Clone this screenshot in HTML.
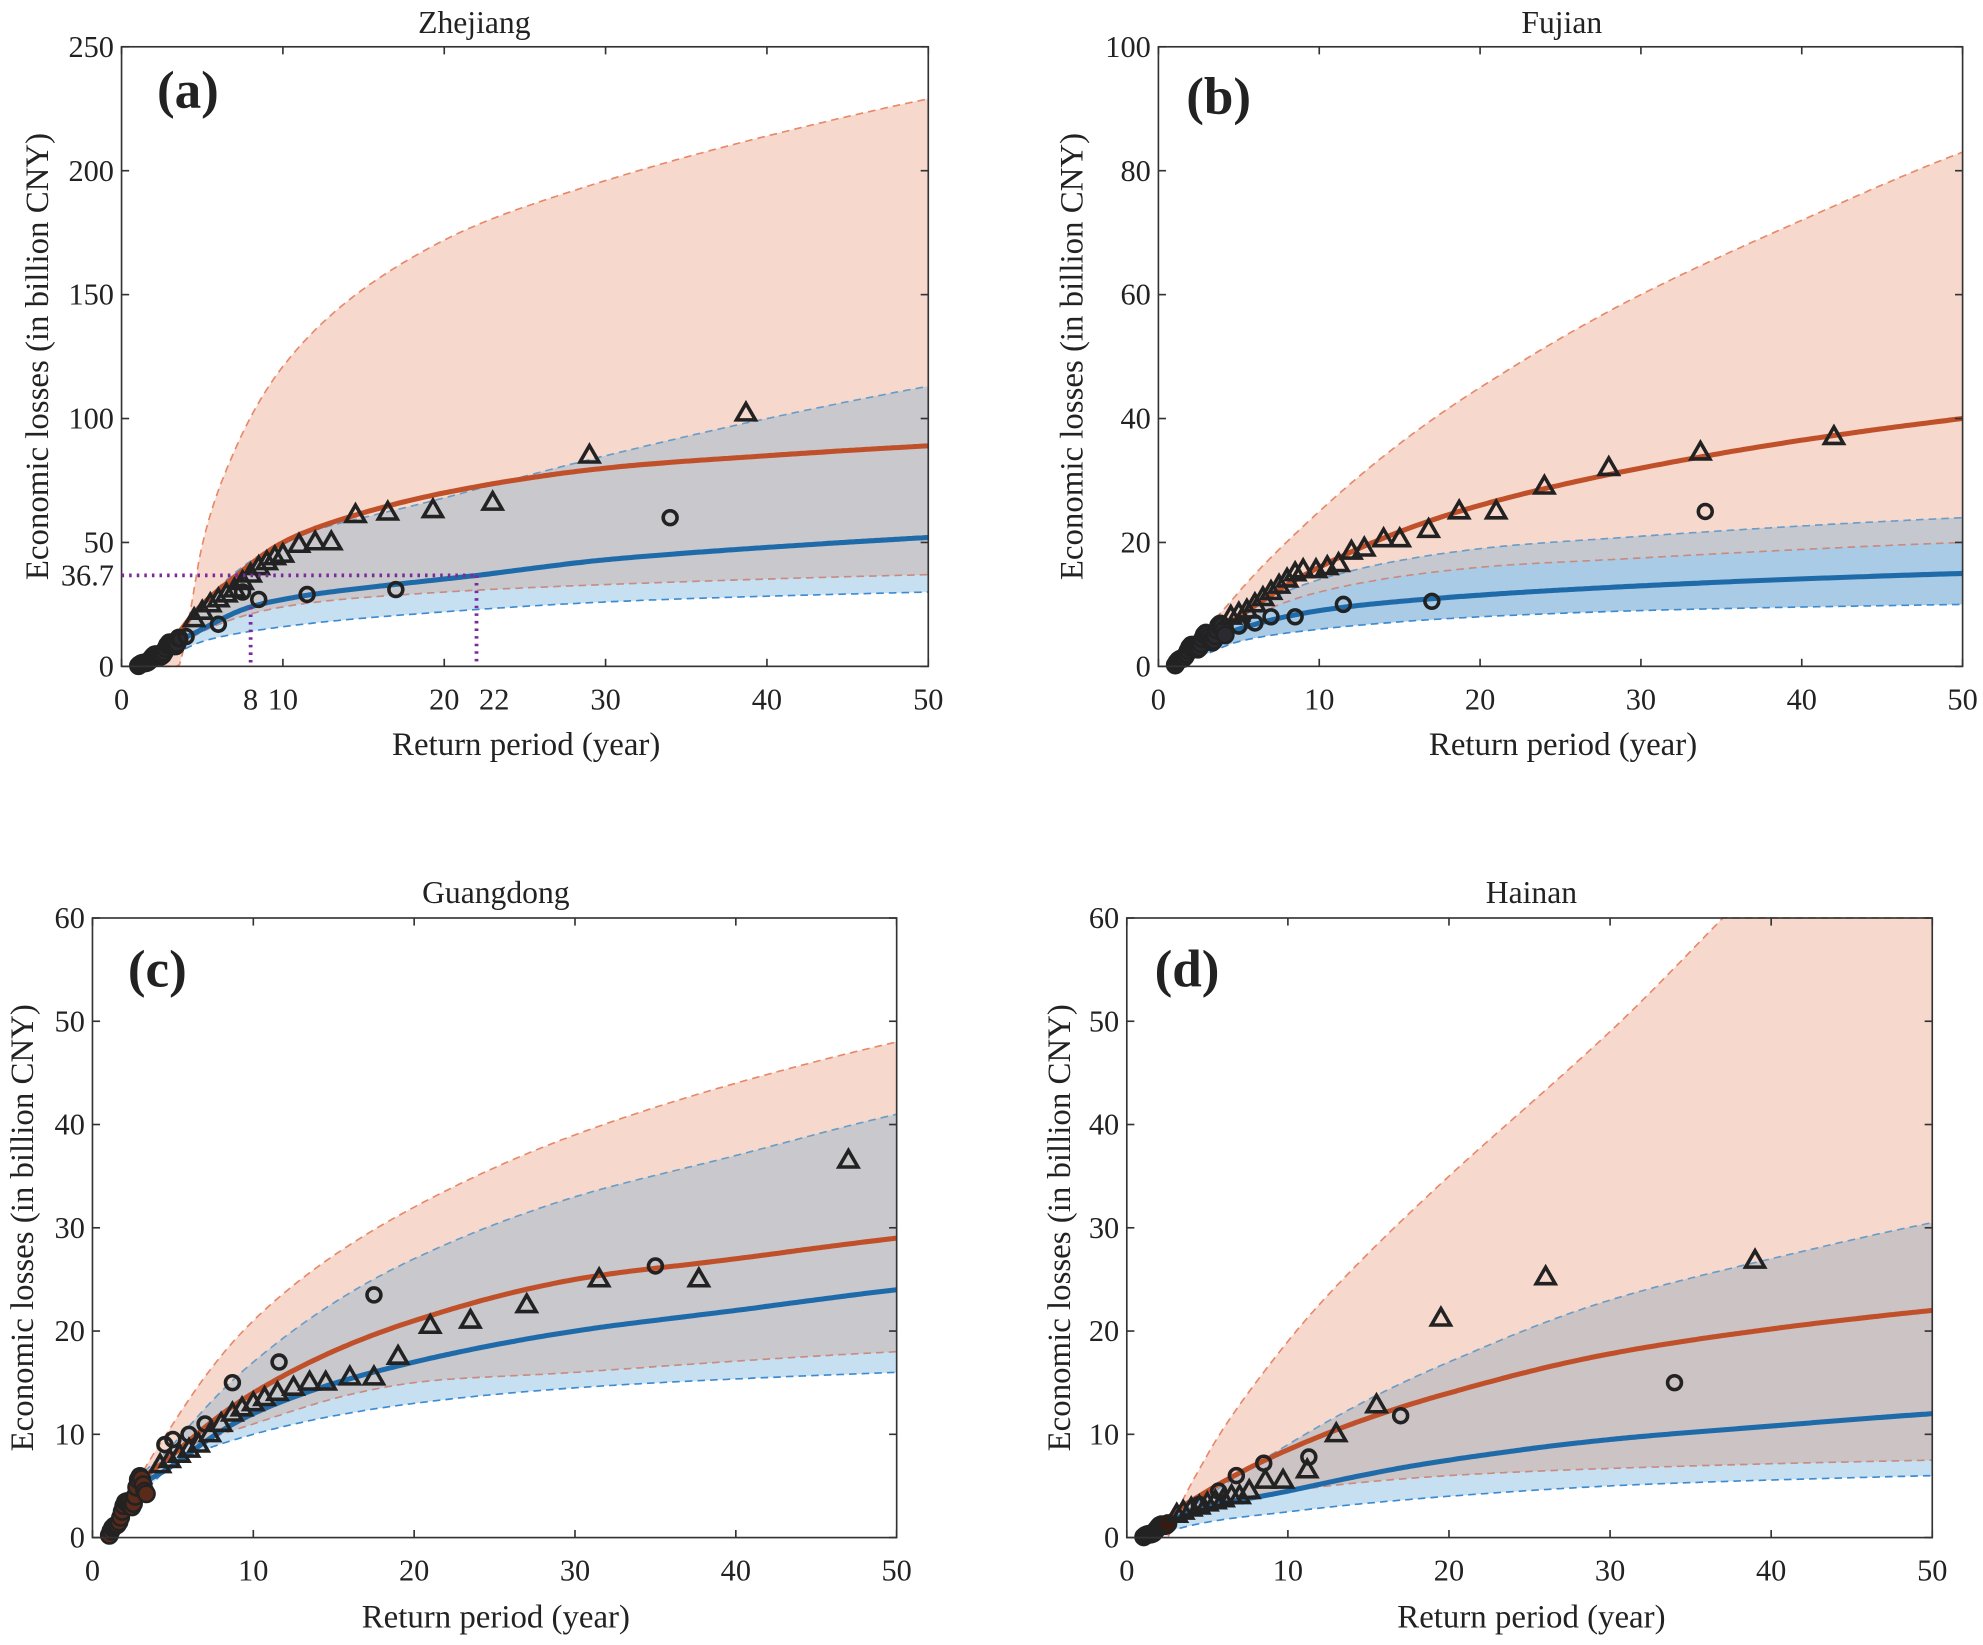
<!DOCTYPE html>
<html><head><meta charset="utf-8"><style>
html,body{margin:0;padding:0;background:#fff}
text{font-family:"Liberation Serif","Times New Roman",serif;fill:#222}
</style></head><body>
<svg id="s" width="1983" height="1640" viewBox="0 0 1568 1297" xmlns="http://www.w3.org/2000/svg" font-family="Liberation Serif, serif">
<rect width="1568" height="1297" fill="#fff"/>
<g id="g"></g>
<text x="375" y="26" font-size="25" text-anchor="middle" font-family="Liberation Serif, serif">Zhejiang</text>
<text x="1235" y="26" font-size="25" text-anchor="middle" font-family="Liberation Serif, serif">Fujian</text>
<text x="392" y="714" font-size="25" text-anchor="middle" font-family="Liberation Serif, serif">Guangdong</text>
<text x="1211" y="714" font-size="25" text-anchor="middle" font-family="Liberation Serif, serif">Hainan</text>
<text x="416" y="597" font-size="26" text-anchor="middle" font-family="Liberation Serif, serif">Return period (year)</text>
<text x="1236" y="597" font-size="26" text-anchor="middle" font-family="Liberation Serif, serif">Return period (year)</text>
<text x="392" y="1287" font-size="26" text-anchor="middle" font-family="Liberation Serif, serif">Return period (year)</text>
<text x="1211" y="1287" font-size="26" text-anchor="middle" font-family="Liberation Serif, serif">Return period (year)</text>
<text transform="translate(38,282) rotate(-90)" font-size="26" text-anchor="middle" font-family="Liberation Serif, serif">Economic losses (in billion CNY)</text>
<text transform="translate(856,282) rotate(-90)" font-size="26" text-anchor="middle" font-family="Liberation Serif, serif">Economic losses (in billion CNY)</text>
<text transform="translate(26,971) rotate(-90)" font-size="26" text-anchor="middle" font-family="Liberation Serif, serif">Economic losses (in billion CNY)</text>
<text transform="translate(846,971) rotate(-90)" font-size="26" text-anchor="middle" font-family="Liberation Serif, serif">Economic losses (in billion CNY)</text>
</svg>
<script>
var NS="http://www.w3.org/2000/svg",G=document.getElementById('g');
function el(t,a,txt){var e=document.createElementNS(NS,t);for(var k in a)e.setAttribute(k,a[k]);if(txt!==undefined){e.textContent=txt;e.setAttribute('font-family','Liberation Serif, serif');}G.appendChild(e);return e;}
function interp(pts,T){
 var n=pts.length,x=pts.map(function(p){return Math.log(p[0])}),y=pts.map(function(p){return p[1]});
 var u=Math.log(T);
 if(u<=x[0])return y[0]; if(u>=x[n-1])return y[n-1];
 var d=[],m=[];for(var i=0;i<n-1;i++)d.push((y[i+1]-y[i])/(x[i+1]-x[i]));
 m[0]=d[0];m[n-1]=d[n-2];for(i=1;i<n-1;i++){m[i]=(d[i-1]*d[i]<=0)?0:(d[i-1]+d[i])/2;}
 for(i=0;i<n-1;i++){if(d[i]===0){m[i]=0;m[i+1]=0;continue;}var a=m[i]/d[i],b=m[i+1]/d[i],s=a*a+b*b;if(s>9){var t=3/Math.sqrt(s);m[i]=t*a*d[i];m[i+1]=t*b*d[i];}}
 for(i=0;i<n-1;i++)if(u<=x[i+1])break;
 var h=x[i+1]-x[i],t=(u-x[i])/h,t2=t*t,t3=t2*t;
 return (2*t3-3*t2+1)*y[i]+(t3-2*t2+t)*h*m[i]+(-2*t3+3*t2)*y[i+1]+(t3-t2)*h*m[i+1];}
function panel(P){
 var X=function(t){return P.x0+(P.x1-P.x0)*t/50},Y=function(v){return P.y0-(P.y0-P.y1)*Math.max(0,Math.min(v,P.ymax))/P.ymax};
 var Ts=[];for(var t=1;t<=50.001;t+=0.2)Ts.push(t);
 function line(c){return Ts.map(function(t,i){return (i?'L':'M')+X(t).toFixed(1)+' '+Y(interp(c,t)).toFixed(1)}).join(' ')}
 function band(lo,hi){var a=Ts.map(function(t,i){return (i?'L':'M')+X(t).toFixed(1)+' '+Y(hi(t)).toFixed(1)}).join(' ');
  var b=Ts.slice().reverse().map(function(t){return 'L'+X(t).toFixed(1)+' '+Y(lo(t)).toFixed(1)}).join(' ');return a+' '+b+'Z';}
 var ou=function(t){return interp(P.ou,t)},ol=function(t){return interp(P.ol,t)},bu=function(t){return interp(P.bu,t)},bl=function(t){return interp(P.bl,t)};
 el('path',{d:band(ol,ou),fill:'#f6d9cc'});
 el('path',{d:band(bl,bu),fill:P.bc});
 el('path',{d:band(function(t){return Math.max(ol(t),bl(t))},function(t){return Math.max(Math.max(ol(t),bl(t)),Math.min(ou(t),bu(t)))}),fill:P.gc});
 el('path',{d:line(P.ou),fill:'none',stroke:'#e8886a','stroke-width':1.3,'stroke-dasharray':'6 4'});
 el('path',{d:line(P.ol),fill:'none',stroke:'#c98a80','stroke-width':1.3,'stroke-dasharray':'6 4'});
 el('path',{d:line(P.bu),fill:'none',stroke:'#6a9cc8','stroke-width':1.3,'stroke-dasharray':'6 4'});
 el('path',{d:line(P.bl),fill:'none',stroke:'#3d8ad0','stroke-width':1.3,'stroke-dasharray':'6 4'});
 el('path',{d:line(P.os),fill:'none',stroke:'#c0502a','stroke-width':4});
 el('path',{d:line(P.bs),fill:'none',stroke:'#1f6aa8','stroke-width':4});
 for(var t=1.05;t<=P.cl;t+=0.1){var v=interp(P.os,t)*(0.9+0.2*Math.sin(t*7));
  el('circle',{cx:X(t),cy:Y(v),r:6.5,fill:P.cf,stroke:'#222','stroke-width':2});}
 P.tri.forEach(function(p){var x=X(p[0]),y=Y(p[1]);el('path',{d:'M'+x+' '+(y-8)+' L'+(x+7.5)+' '+(y+5)+' L'+(x-7.5)+' '+(y+5)+'Z',fill:'none',stroke:'#222','stroke-width':2.8});});
 P.cir.forEach(function(p){el('circle',{cx:X(p[0]),cy:Y(p[1]),r:5.5,fill:'none',stroke:'#222','stroke-width':2.8});});
 el('rect',{x:P.x0,y:P.y1,width:P.x1-P.x0,height:P.y0-P.y1,fill:'none',stroke:'#333','stroke-width':1.3});
 for(var i=0;i<=5;i++){var x=X(i*10);el('line',{x1:x,y1:P.y0,x2:x,y2:P.y0-6,stroke:'#333','stroke-width':1.3});el('line',{x1:x,y1:P.y1,x2:x,y2:P.y1+6,stroke:'#333','stroke-width':1.3});
  el('text',{x:x,y:P.y0+34,'font-size':24,'text-anchor':'middle'},String(i*10));}
 P.yt.forEach(function(v){var y=Y(v);el('line',{x1:P.x0,y1:y,x2:P.x0+6,y2:y,stroke:'#333','stroke-width':1.3});el('line',{x1:P.x1,y1:y,x2:P.x1-6,y2:y,stroke:'#333','stroke-width':1.3});
  el('text',{x:P.x0-6,y:y+8,'font-size':24,'text-anchor':'end'},String(v));});
 el('text',{x:P.lx,y:P.ly,'font-size':42,'font-weight':'bold'},P.lab);
 return {X:X,Y:Y};
}
var a=panel({x0:96,x1:734,y0:527,y1:37,ymax:250,yt:[0,50,100,150,200,250],lab:'(a)',lx:124,ly:85,bc:'#c6e0f2',gc:'#c8c8cd',cf:'#2a2a30',cl:3.6,
 ou:[[1,0],[3.5,0],[4.2,20],[5,49],[7,87],[10,121],[20,172],[30,196],[40,214],[50,229]],
 ol:[[1,0],[3,5],[5,14],[10,24],[20,30],[30,33],[50,37]],
 bu:[[1,0],[3,6],[5,25],[10,50],[20,68],[30,85],[40,100],[50,113]],
 bl:[[1,0],[3,4],[5,10],[10,16],[20,22],[30,26],[50,30]],
 os:[[1,0],[2,4],[3,9],[5,25],[7,36],[10,50],[15,62],[20,70],[30,80],[40,85],[50,89]],
 bs:[[1,0],[2,3],[3,8],[5,15],[8,24],[10,27],[22,36.7],[30,43],[40,48],[50,52]],
 tri:[[38.7,102],[29,85],[23,66],[19.3,63],[16.5,62],[14.5,61],[13,50],[12,50],[11,49],[10,45],[9.5,44],[9,42],[8.5,40],[8,37],[7.5,34],[7,31],[6.5,29],[6,27],[5.5,25],[5,22],[4.5,19]],
 cir:[[34,60],[17,31],[11.5,29],[8.5,27],[7.5,30],[6,17],[4,12],[3.6,11]]});
var b=panel({x0:916,x1:1552,y0:527,y1:37,ymax:100,yt:[0,20,40,60,80,100],lab:'(b)',lx:938,ly:90,bc:'#a9cbe6',gc:'#c6c8cf',cf:'#2a2a30',cl:4.2,
 ou:[[1,0],[2,3],[3,6],[5,12],[10,25],[20,45],[30,60],[40,72],[50,83]],
 ol:[[1,0],[3,4],[5,7],[10,12],[20,16],[30,17.5],[50,20]],
 bu:[[1,0],[3,4],[5,8],[10,14],[20,19],[30,21],[50,24]],
 bl:[[1,0],[3,2],[5,4],[10,6],[20,8],[30,9],[50,10]],
 os:[[1,0],[2,3],[3,5],[5,8],[10,16],[20,26],[30,32],[40,36.5],[50,40]],
 bs:[[1,0],[2,2],[3,4],[5,6],[10,9],[20,11.5],[30,13],[50,15]],
 tri:[[42,37],[33.7,34.5],[28,32],[24,29],[21,25],[18.7,25],[16.8,22],[15,20.5],[14,20.5],[12.8,19],[12,18.5],[11.2,16.5],[10.5,16],[9.8,15.5],[9,15.5],[8.5,15],[8,14],[7.5,13],[7,12],[6.5,11],[6,10],[5.5,9],[5,8.5],[4.5,8]],
 cir:[[34,25],[17,10.5],[11.5,10],[8.5,8],[7,8],[6,7],[5,6.5]]});
var c=panel({x0:73,x1:709,y0:1216,y1:726,ymax:60,yt:[0,10,20,30,40,50,60],lab:'(c)',lx:101,ly:780,bc:'#c6e0f2',gc:'#c8c8cd',cf:'#5a2a1a',cl:3.4,
 ou:[[1,0],[2,3],[3,6],[5,11],[10,21],[20,32],[30,39],[40,44],[50,48]],
 ol:[[1,0],[3,5],[5,8],[10,11],[20,15],[30,16],[50,18]],
 bu:[[1,0],[3,6],[5,9],[10,17],[20,27],[30,33],[40,37],[50,41]],
 bl:[[1,0],[3,4],[5,7],[10,10],[20,13],[30,14.5],[50,16]],
 os:[[1,0],[2,3],[3,5.5],[5,8],[10,14],[20,21],[30,25],[40,27],[50,29]],
 bs:[[1,0],[2,3],[3,5],[5,7],[10,12],[20,17],[30,20],[40,22],[50,24]],
 tri:[[47,36.5],[37.7,25],[31.5,25],[27,22.5],[23.5,21],[21,20.5],[19,17.5],[17.5,15.5],[16,15.5],[14.5,15],[13.5,15],[12.5,14.5],[11.5,14],[10.7,13.5],[10,13],[9.3,12.5],[8.7,12],[8,11],[7.3,10],[6.6,9],[6,8.5],[5.4,8],[4.8,7.5],[4.2,7]],
 cir:[[35,26.3],[17.5,23.5],[11.6,17],[8.7,15],[7,11],[6,10],[5,9.5],[4.5,9]]});
var d=panel({x0:891,x1:1528,y0:1216,y1:726,ymax:60,yt:[0,10,20,30,40,50,60],lab:'(d)',lx:913,ly:780,bc:'#c6e0f2',gc:'#cbc3c4',cf:'#3a1a10',cl:2.6,
 ou:[[1,0],[2.5,0],[3,2],[5,8],[10,19],[20,35],[30,49],[37,60],[50,80]],
 ol:[[1,0],[3,1.5],[5,3],[10,4.5],[20,6],[50,7.5]],
 bu:[[1,0],[3,2],[5,4],[10,9],[20,17],[30,23],[40,27],[50,30.5]],
 bl:[[1,0],[3,0.8],[5,1.5],[10,2.5],[20,4],[30,5],[50,6]],
 os:[[1,0],[2,1],[3,2.5],[5,4.5],[10,8.5],[20,14],[30,17.8],[40,20.2],[50,22]],
 bs:[[1,0],[2,0.8],[3,1.8],[5,3],[10,4.5],[20,7.5],[30,9.5],[40,10.8],[50,12]],
 tri:[[39,26.8],[26,25.2],[19.5,21.2],[15.5,12.8],[13,10],[11.2,6.5],[9.7,5.5],[8.6,5.5],[7.6,4.5],[7,4],[6.5,4],[6,3.7],[5.5,3.5],[5,3.3],[4.5,3],[4,2.8],[3.5,2.5],[3.1,2.2]],
 cir:[[34,15],[17,11.8],[11.3,7.8],[8.5,7.2],[6.8,6],[5.7,4.5],[4.5,3.2]]});
var pc='#7a2a9a';
el('path',{d:'M96 '+a.Y(36.7)+' L'+a.X(22)+' '+a.Y(36.7),stroke:pc,'stroke-width':3,'stroke-dasharray':'2 4',fill:'none'});
el('path',{d:'M'+a.X(22)+' '+a.Y(36.7)+' L'+a.X(22)+' 527',stroke:pc,'stroke-width':3,'stroke-dasharray':'2 4',fill:'none'});
el('path',{d:'M'+a.X(8)+' '+a.Y(24)+' L'+a.X(8)+' 527',stroke:pc,'stroke-width':3,'stroke-dasharray':'2 4',fill:'none'});
el('text',{x:90,y:a.Y(36.7)+8,'font-size':24,'text-anchor':'end',fill:pc},'36.7');
el('text',{x:a.X(8),y:561,'font-size':24,'text-anchor':'middle',fill:pc},'8');
el('text',{x:a.X(22)+14,y:561,'font-size':24,'text-anchor':'middle',fill:pc},'22');
</script>
</body></html>
